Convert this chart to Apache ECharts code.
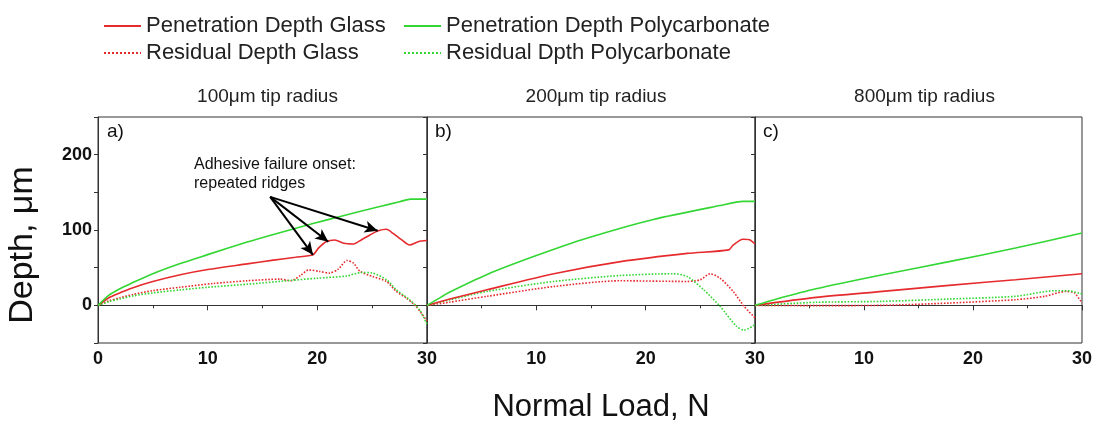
<!DOCTYPE html>
<html>
<head>
<meta charset="utf-8">
<script src="https://cdn.jsdelivr.net/npm/echarts@6/dist/echarts.min.js"></script>
<style>
  html, body { margin: 0; padding: 0; background: #fff; }
  #main { width: 1095px; height: 421px; }
</style>
</head>
<body>
<div id="main"></div>
<script>
// legend / series names
var seriesNames = ['Penetration Depth Glass', 'Penetration Depth Polycarbonate', 'Residual Depth Glass', 'Residual Dpth Polycarbonate']
var panelTitles = ['100\u03bcm tip radius', '200\u03bcm tip radius', '800\u03bcm tip radius']
var panelTags = ['a)', 'b)', 'c)']
var xTicks = [0, 10, 20, 30]
var yTicks = [0, 100, 200]

// panel a) 100um
var loadA_glassPen = [0, 1, 2, 3, 5, 7.5, 10, 13.6, 16, 18, 19.6, 20.1, 20.8, 21.6, 22.4, 23.3, 24, 24.8, 25.55, 26.3, 26.9, 27.7, 28.4, 29.2, 30]
var depthA_glassPen = [0, 10, 16.5, 22.5, 31.5, 40.5, 47.5, 55, 60, 63.8, 67, 76, 84.5, 86.8, 82.4, 81.5, 86.8, 93.4, 99, 101, 95.6, 86.8, 80, 84.5, 86]
var loadA_pcPen = [0, 1, 2, 3, 5, 7.5, 10, 13.6, 16, 19.6, 22, 25.7, 27.5, 28.5, 30]
var depthA_pcPen = [0, 13.5, 22, 29, 42, 55.5, 67.3, 84, 94.1, 108.5, 117.6, 131.2, 137.5, 141, 141]
var loadA_glassRes = [0, 1, 2, 3.2, 5, 7.5, 10.5, 13.6, 16.6, 17.6, 18.5, 19.2, 20.2, 21.1, 21.9, 22.7, 23.3, 23.9, 25.1, 26.3, 27.2, 28.1, 29, 30]
var depthA_glassRes = [0, 6, 10, 14.5, 19.5, 24, 29, 32.6, 34.8, 32.6, 40, 47, 45, 42.8, 48, 59.5, 56, 45, 38, 31.7, 18.5, 9.8, -1.3, -21]
var loadA_pcRes = [0, 1, 2, 3.2, 5, 7.5, 10, 13.6, 17.5, 20, 22.7, 24, 25, 26.3, 27.2, 28.4, 29.3, 30]
var depthA_pcRes = [0, 5, 8.5, 12.5, 16.5, 20.5, 24, 28, 33, 36, 39, 43.6, 43, 34, 20.7, 7.5, -5.7, -25]

// panel b) 200um
var loadB_glassPen = [0, 2, 5.5, 11.6, 17.7, 23.8, 27.6, 28, 28.9, 29.5, 30]
var depthB_glassPen = [0, 8, 20.7, 42, 58, 69, 73.6, 80, 87.7, 87, 81.5]
var loadB_pcPen = [0, 1, 2, 5.5, 10, 14.6, 20.7, 26.8, 28.9, 30]
var depthB_pcPen = [0, 8.5, 17, 41, 66, 89, 114, 132.5, 138, 138]
var loadB_glassRes = [0, 2, 5.5, 11.6, 17.7, 23.8, 25, 25.9, 26.8, 28, 29, 30]
var depthB_glassRes = [0, 4, 12, 25, 32.6, 31.7, 34, 41.9, 36, 18.5, -1.3, -16.6]
var loadB_pcRes = [0, 2, 5.5, 11.6, 17.7, 22.5, 23.8, 25.3, 26.8, 28.3, 29, 30]
var depthB_pcRes = [0, 7, 18.5, 31.7, 39.6, 41.9, 38.3, 20.7, -1.3, -27.7, -33, -25.5]

// panel c) 800um
var loadC_glassPen = [0, 5.6, 11.7, 17.8, 23.9, 30]
var depthC_glassPen = [0, 10.6, 18.5, 26.5, 34, 41.9]
var loadC_pcPen = [0, 2, 5.6, 11.7, 17.8, 23.9, 30]
var depthC_pcPen = [0, 8.5, 22, 40.6, 58, 76, 96]
var loadC_glassRes = [0, 5.6, 11.7, 17.8, 23.9, 26.6, 28.5, 29.3, 30]
var depthC_glassRes = [0, -0.4, 0, 3, 7.5, 12, 18.5, 16.5, 3]
var loadC_pcRes = [0, 5.6, 11.7, 17.8, 23.9, 27.5, 28.7, 30]
var depthC_pcRes = [0, 4, 5.3, 8.4, 12, 19.4, 19.4, 15]

// annotation arrows (panel a, data coords): from label to ridge points
var arrowFrom = [15.7, 144]
var arrowTo = [[19.6, 67], [21.0, 84.5], [25.5, 99]]

var RED = '#e62b2f'
var GREEN = '#33d633'
var FONT = '"Liberation Sans", Arial, sans-serif'

function pairs (xs, ys) {
  return xs.map(function (x, i) { return [x, ys[i]] })
}

var panels = [
  [[loadA_glassPen, depthA_glassPen], [loadA_pcPen, depthA_pcPen], [loadA_glassRes, depthA_glassRes], [loadA_pcRes, depthA_pcRes]],
  [[loadB_glassPen, depthB_glassPen], [loadB_pcPen, depthB_pcPen], [loadB_glassRes, depthB_glassRes], [loadB_pcRes, depthB_pcRes]],
  [[loadC_glassPen, depthC_glassPen], [loadC_pcPen, depthC_pcPen], [loadC_glassRes, depthC_glassRes], [loadC_pcRes, depthC_pcRes]]
]

var gridLeft = [98, 427, 755]
var gridWidth = [329, 328, 329]

var grids = [], xAxes = [], yAxes = [], series = [], titles = []

panels.forEach(function (panel, p) {
  grids.push({ left: gridLeft[p], width: gridWidth[p], top: 117, height: 226, show: true, borderColor: '#333', borderWidth: 1 })
  titles.push({
    text: panelTitles[p], left: gridLeft[p] + gridWidth[p] / 2, top: 82, textAlign: 'center',
    textStyle: { fontFamily: FONT, fontSize: 19, fontWeight: 'normal', color: '#222' }
  })
  xAxes.push({
    gridIndex: p, type: 'value', min: 0, max: 30, interval: 10,
    axisLine: { lineStyle: { color: '#333', width: 1 } },
    axisTick: { length: 5, lineStyle: { color: '#333' } },
    minorTick: { show: true, splitNumber: 2, length: 3, lineStyle: { color: '#333' } },
    splitLine: { show: false },
    axisLabel: {
      margin: 7, fontFamily: FONT, fontSize: 18, fontWeight: 'bold', color: '#111',
      formatter: function (v) { return (p > 0 && v === 0) ? '' : (xTicks.indexOf(v) >= 0 ? String(v) : '') }
    }
  })
  yAxes.push({
    gridIndex: p, type: 'value', min: -50, max: 250, interval: 50,
    axisLine: { show: true, lineStyle: { color: '#333', width: 1 } },
    axisTick: { show: true, length: 4, lineStyle: { color: '#333' } },
    splitLine: { show: false },
    axisLabel: {
      show: p === 0, margin: 6, fontFamily: FONT, fontSize: 18, fontWeight: 'bold', color: '#111',
      formatter: function (v) { return yTicks.indexOf(v) >= 0 ? String(v) : '' }
    }
  })
  panel.forEach(function (d, k) {
    var s = {
      name: seriesNames[k], type: 'line', xAxisIndex: p, yAxisIndex: p,
      data: pairs(d[0], d[1]), showSymbol: false, symbol: 'none',
      smooth: 0.25, z: k < 2 ? 3 : 2,
      lineStyle: { color: k % 2 === 0 ? RED : GREEN, width: 1.6, type: k < 2 ? 'solid' : 'dotted' },
      itemStyle: { color: k % 2 === 0 ? RED : GREEN },
      emphasis: { disabled: true }
    }
    if (p === 0 && k === 0) {
      s.markLine = {
        silent: true, symbol: ['none', 'arrow'], symbolSize: [9, 13],
        label: { show: false },
        lineStyle: { color: '#000', width: 2, type: 'solid' },
        data: arrowTo.map(function (t) { return [{ coord: arrowFrom }, { coord: t }] })
      }
    }
    series.push(s)
  })
})

var legendBase = {
  orient: 'vertical', top: 10, itemWidth: 37, itemHeight: 12, itemGap: 5,
  selectedMode: false,
  itemStyle: { color: 'rgba(0,0,0,0)', borderWidth: 0, opacity: 0 },
  textStyle: { fontFamily: FONT, fontSize: 22, color: '#222' }
}

var option = {
  animation: false,
  backgroundColor: '#fff',
  title: titles,
  legend: [
    Object.assign({ left: 98, data: [seriesNames[0], seriesNames[2]] }, legendBase),
    Object.assign({ left: 398, data: [seriesNames[1], seriesNames[3]] }, legendBase)
  ],
  grid: grids,
  xAxis: xAxes,
  yAxis: yAxes,
  series: series,
  graphic: [
    { type: 'text', left: 107, top: 122, style: { text: panelTags[0], font: '19px ' + FONT, fill: '#111' } },
    { type: 'text', left: 435, top: 122, style: { text: panelTags[1], font: '19px ' + FONT, fill: '#111' } },
    { type: 'text', left: 763, top: 122, style: { text: panelTags[2], font: '19px ' + FONT, fill: '#111' } },
    { type: 'text', left: 194, top: 155, style: { text: 'Adhesive failure onset:\nrepeated ridges', font: '16px ' + FONT, lineHeight: 19, fill: '#111' } },
    { type: 'text', x: 601, y: 407, style: { text: 'Normal Load, N', font: '31px ' + FONT, fill: '#111', textAlign: 'center', textVerticalAlign: 'middle' } },
    { type: 'text', x: 23, y: 245, rotation: Math.PI / 2, style: { text: 'Depth, \u03bcm', font: '34px ' + FONT, fill: '#111', textAlign: 'center', textVerticalAlign: 'middle' } }
  ]
}

var chart = echarts.init(document.getElementById('main'))
chart.setOption(option)
</script>
</body>
</html>
